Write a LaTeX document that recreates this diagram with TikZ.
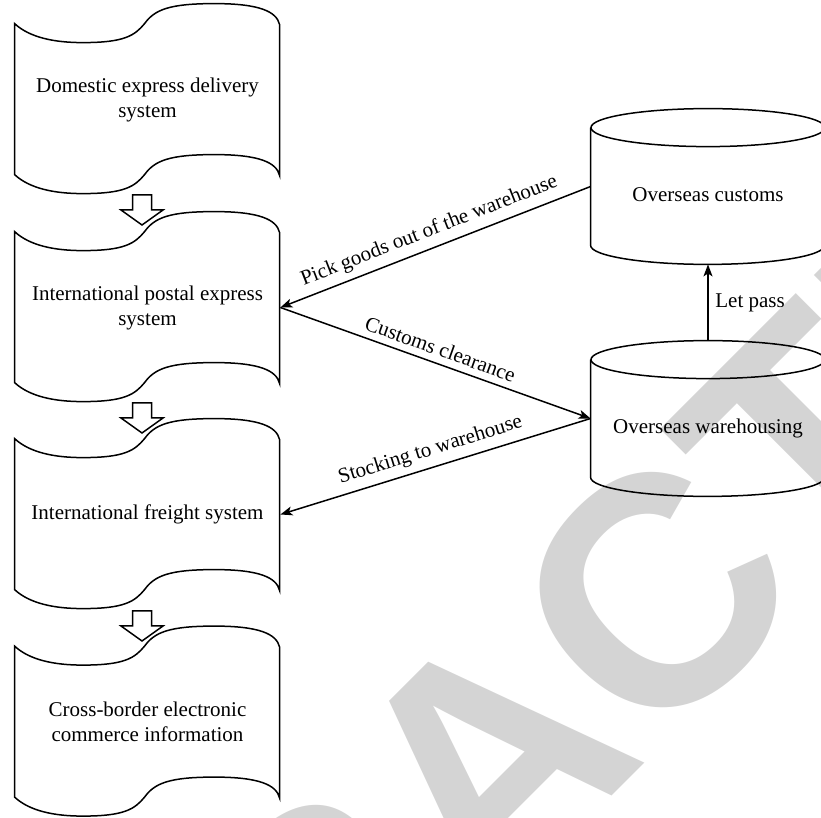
\documentclass[tikz,border=0pt]{standalone}
\usepackage{fontspec}
\setmainfont{Liberation Serif}
\newfontfamily\markfont{Liberation Sans}
\usetikzlibrary{arrows.meta}

\tikzset{
  docbox/.style={minimum width=132.5pt, minimum height=75.5pt, inner sep=0pt,
    align=center, font=\fontsize{10.5}{12.5}\selectfont},
  store/.style={minimum width=117pt, minimum height=58.5pt, inner sep=0pt,
    text height=15.5pt, text depth=0pt, font=\fontsize{10.5}{12.5}\selectfont},
  outline/.style={line width=0.75pt},
  flow/.style={-{Stealth[length=6pt, width=4.5pt, inset=1.5pt]}, line width=0.75pt},
  tag/.style={sloped, above, font=\fontsize{10.5}{12.5}\selectfont},
  blockarrow/.style={draw, fill=white, line width=0.75pt}
}

\begin{document}
\begin{tikzpicture}[x=0.5pt, y=-0.5pt]
    \useasboundingbox (0,0) rectangle (821,818);
    % watermark behind the diagram
    \node[text=black!17, rotate=45, inner sep=0pt,
      font=\markfont\bfseries\fontsize{163}{163}\selectfont] (mark) at (488,761) {RETRACTED};

    % the four systems on the left
    \node[docbox] (dom) at (147.5,99.5) {Domestic express delivery\\system};
    \node[docbox] (post) at (147.5,307.5) {International postal express\\system};
    \node[docbox] (freight) at (147.5,514.5) {International freight system};
    \node[docbox] (info) at (147.5,722) {Cross-border electronic\\commerce information};

    % wavy document outlines
    \foreach \n in {dom,post,freight,info}
      \draw[outline, shift={(\n.north west)}]
        (0,0) .. controls (15,14) and (40,19) .. (68,19)
        .. controls (110,19) and (120,12) .. (130,0)
        .. controls (140,-14) and (155,-20) .. (200,-20)
        .. controls (245,-20) and (262,-12) .. (265,1)
        -- (265,152)
        .. controls (262,139) and (245,131) .. (200,131)
        .. controls (155,131) and (140,137) .. (130,151)
        .. controls (120,163) and (110,170) .. (68,170)
        .. controls (40,170) and (15,165) .. (0,151) -- cycle;

    % hollow arrows between the systems
    \foreach \y in {195,403,611}
      \draw[blockarrow] (132.5,\y) -- (151.5,\y) -- (151.5,\y+15) -- (163,\y+15)
        -- (142,\y+30) -- (121,\y+15) -- (132.5,\y+15) -- cycle;

    % overseas side
    \node[store] (customs) at (708,186.5) {Overseas customs};
    \node[store] (house) at (708,418.5) {Overseas warehousing};
    \foreach \n in {customs,house} {
      \draw[outline] (\n.north west) -- (\n.south west)
        arc[start angle=180, end angle=360, x radius=58.5pt, y radius=9.5pt] -- (\n.north east);
      \draw[outline] (\n.north) ellipse[x radius=58.5pt, y radius=9.5pt];
    }

    \draw[flow] (customs.west) -- node[tag] {Pick goods out of the warehouse} (post.east);
    \draw[flow] (post.east) -- node[tag] {Customs clearance} (house.west);
    \draw[flow] (house.west) -- node[tag] {Stocking to warehouse} (freight.east);
    \draw[flow] ([yshift=9.5pt]house.north) -- node[right, font=\fontsize{10.5}{12.5}\selectfont] {Let pass} ([yshift=-9.5pt]customs.south);
\end{tikzpicture}
\end{document}
